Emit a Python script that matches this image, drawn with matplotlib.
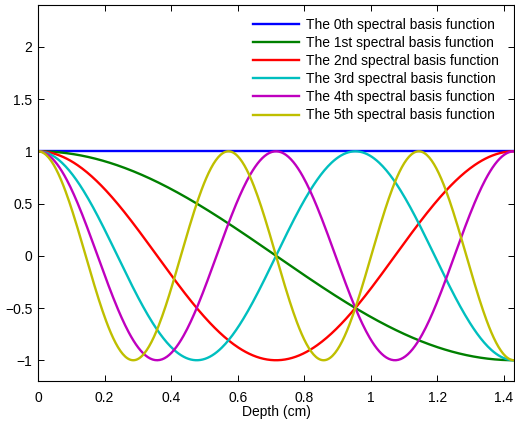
import numpy as np
import matplotlib
matplotlib.use("Agg")
import matplotlib.pyplot as plt

# spectral (cosine) basis orders and the depth extent
orders = [0, 1, 2, 3, 4, 5]
depth_max = 1.43
labels = ["The 0th spectral basis function", "The 1st spectral basis function",
          "The 2nd spectral basis function", "The 3rd spectral basis function",
          "The 4th spectral basis function", "The 5th spectral basis function"]
colors = ["#0000ff", "#008000", "#ff0000", "#00bfbf", "#bf00bf", "#bfbf00"]

xticks = [0, 0.2, 0.4, 0.6, 0.8, 1, 1.2, 1.4]
yticks = [-1, -0.5, 0, 0.5, 1, 1.5, 2]

plt.rcParams['font.family'] = ['Liberation Sans', 'DejaVu Sans']
plt.rcParams['axes.unicode_minus'] = True

fig = plt.figure(figsize=(5.15, 4.23), dpi=100)
ax = fig.add_axes([0.074, 0.099, 0.924, 0.889])

depth = np.linspace(0, depth_max, 400)
for n, lab, c in zip(orders, labels, colors):
    ax.plot(depth, np.cos(n * np.pi * depth / depth_max), color=c, lw=1.7, label=lab)

ax.set_xlim(0, depth_max)
ax.set_ylim(-1.2, 2.4)
ax.set_xticks(xticks)
ax.set_xticklabels([f"{t:g}" for t in xticks])
ax.set_yticks(yticks)
ax.set_yticklabels([f"{t:g}".replace("-", "\u2212") for t in yticks])
ax.tick_params(direction='in', top=True, right=True, labelsize=10, length=4, width=0.7)
ax.tick_params(axis='x', pad=7)
ax.tick_params(axis='y', pad=4)
for s in ax.spines.values():
    s.set_linewidth(0.8)
ax.set_xlabel("Depth (cm)", fontsize=10, labelpad=0)

ax.legend(loc='upper right', frameon=False, fontsize=10, handlelength=3.3,
          handletextpad=0.55, labelspacing=0.3, borderaxespad=0.5,
          bbox_to_anchor=(0.995, 1.0))

fig.savefig("out.png", dpi=100)
